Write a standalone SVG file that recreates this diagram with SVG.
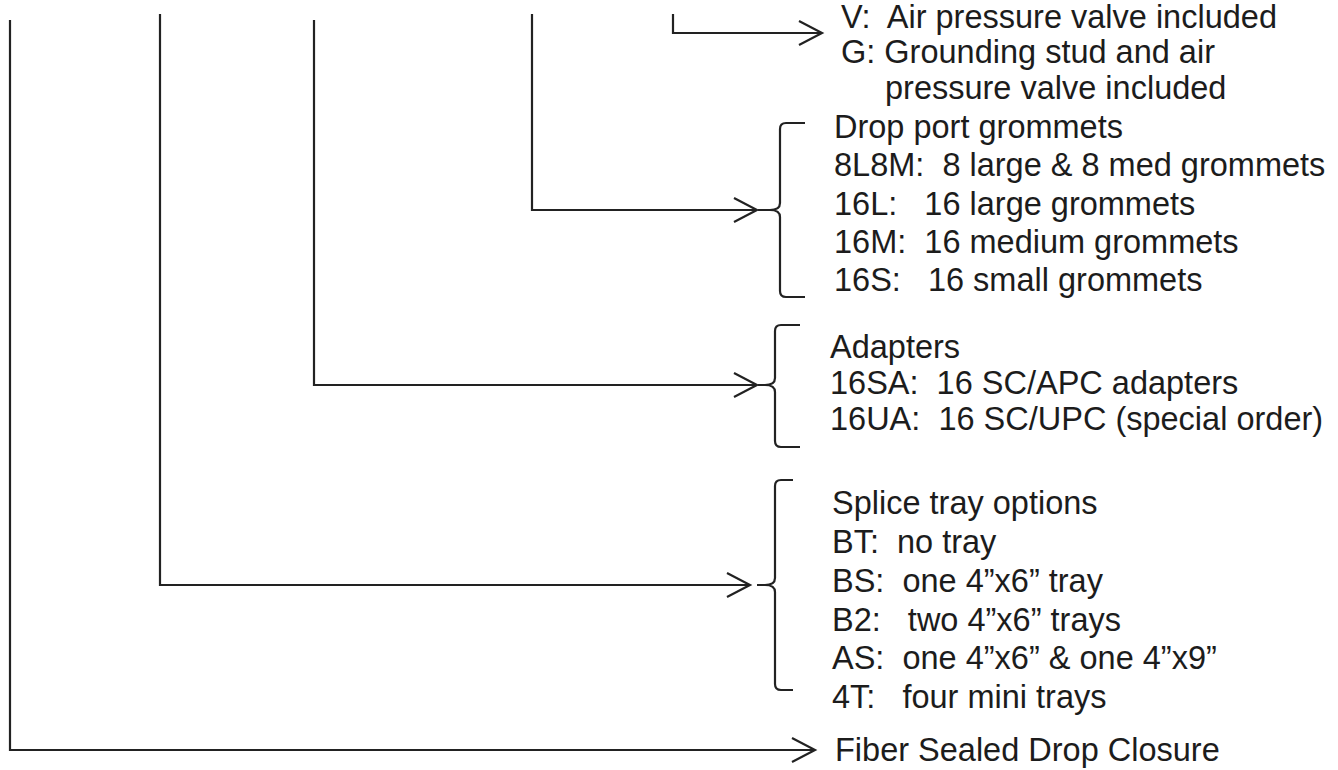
<svg xmlns="http://www.w3.org/2000/svg" width="1338" height="770" viewBox="0 0 1338 770">
<style>
.t{font-family:"Liberation Sans",Arial,sans-serif;font-size:32.5px;fill:#1c1c1c;white-space:pre}
.ln{fill:none;stroke:#222;stroke-width:2.2}
</style>
<defs>
<marker id="ah" markerWidth="28" markerHeight="28" refX="24" refY="13" orient="auto" markerUnits="userSpaceOnUse">
<path d="M1,1 L24,13 L1,25" fill="none" stroke="#222" stroke-width="2.2"/>
</marker>
</defs>
<rect width="1338" height="770" fill="#fff"/>
<g id="connectors">
<path class="ln" d="M10,20 V750 H815" marker-end="url(#ah)"/>
<path class="ln" d="M160,14 V585 H750" marker-end="url(#ah)"/>
<path class="ln" d="M314,20 V385 H757" marker-end="url(#ah)"/>
<path class="ln" d="M532,14 V210 H757" marker-end="url(#ah)"/>
<path class="ln" d="M673,14 V33 H822" marker-end="url(#ah)"/>
</g>
<g id="braces">
<path class="ln" d="M805,123 H786 Q780,123 780,129 V203 Q780,210 770,210 H758 M770,210 Q780,210 780,217 V291 Q780,297 786,297 H805"/>
<path class="ln" d="M800,325 H781 Q775,325 775,331 V378 Q775,385 765,385 H758 M765,385 Q775,385 775,392 V441 Q775,447 781,447 H800"/>
<path class="ln" d="M793,480 H781 Q775,480 775,486 V578 Q775,585 765,585 H757 M765,585 Q775,585 775,592 V684 Q775,690 781,690 H793"/>
</g>
<g id="valve-options">
<text class="t" x="841" y="28">V:  Air pressure valve included</text>
<text class="t" x="841" y="63">G: Grounding stud and air</text>
<text class="t" x="885" y="99">pressure valve included</text>
</g>
<g id="grommet-options">
<text class="t" x="834" y="138">Drop port grommets</text>
<text class="t" x="834" y="176">8L8M:  8 large &amp; 8 med grommets</text>
<text class="t" x="834" y="215">16L:   16 large grommets</text>
<text class="t" x="834" y="253">16M:  16 medium grommets</text>
<text class="t" x="834" y="291">16S:   16 small grommets</text>
</g>
<g id="adapter-options">
<text class="t" x="830" y="358">Adapters</text>
<text class="t" x="830" y="394">16SA:  16 SC/APC adapters</text>
<text class="t" x="830" y="430">16UA:  16 SC/UPC (special order)</text>
</g>
<g id="tray-options">
<text class="t" x="832" y="514">Splice tray options</text>
<text class="t" x="832" y="553">BT:  no tray</text>
<text class="t" x="832" y="592">BS:  one 4”x6” tray</text>
<text class="t" x="832" y="631">B2:   two 4”x6” trays</text>
<text class="t" x="832" y="669">AS:  one 4”x6” &amp; one 4”x9”</text>
<text class="t" x="832" y="708">4T:   four mini trays</text>
</g>
<g id="product">
<text class="t" x="835" y="761">Fiber Sealed Drop Closure</text>
</g>
</svg>
